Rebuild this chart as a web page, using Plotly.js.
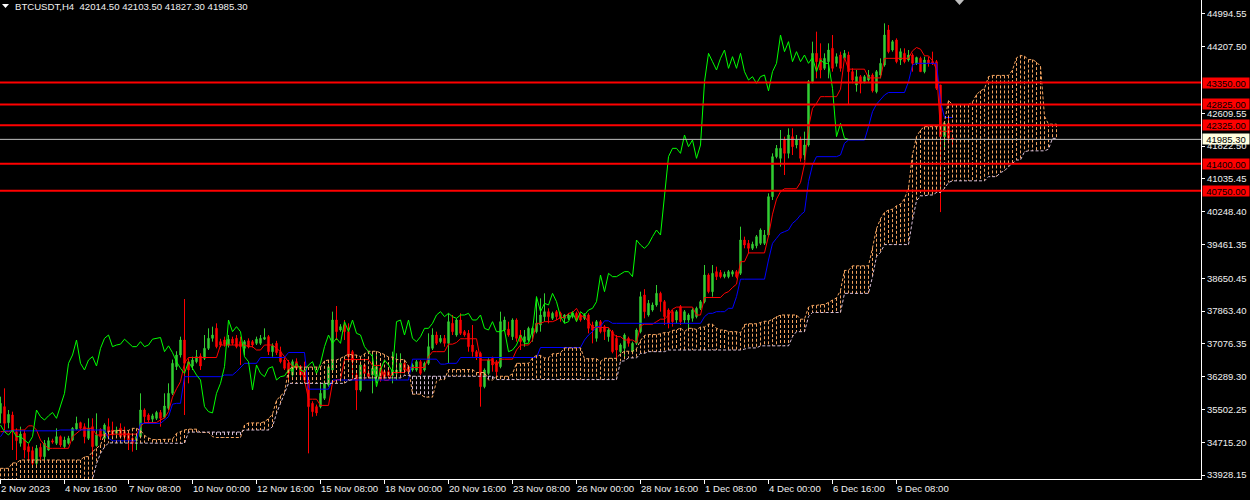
<!DOCTYPE html>
<html><head><meta charset="utf-8">
<script src="https://cdn.plot.ly/plotly-3.0.1.min.js"></script>
<style>html,body{margin:0;padding:0;background:#000;}#chart{width:1250px;height:500px;}</style>
</head><body><div id="chart"></div>
<script>
// ---------- data ----------
const symbolTitle = "BTCUSDT,H4";
const lastOHLC = ["42014.50", "42103.50", "41827.30", "41985.30"];

const openP = [
35410,35570,35186,35370,34970,34690,34930,34610,34514,34210,
34594,34370,34530,34750,34690,34850,34610,34690,34770,35034,
35186,35090,34810,35090,34634,35026,34810,35090,35010,34930,
35050,34970,34930,34810,34750,34850,35490,35370,35270,35290,
35430,35314,35530,35890,36530,36810,37170,36650,36546,36650,
36786,36730,36970,37210,37450,37130,37170,37050,37190,37210,
37130,36970,37150,37130,37090,37090,37190,37250,36890,37090,
36890,36690,36610,36330,36650,36490,36450,36210,35650,35570,
35570,35770,36090,36450,37650,37410,37530,37370,36890,36330,
35970,36570,36370,36330,36290,36490,36410,36410,36310,36370,
36410,36610,36530,36450,36450,36650,36450,36610,36970,37290,
37130,37210,37090,37570,37290,37650,37370,37330,37050,36890,
36850,36050,36370,36730,36650,36530,37410,37430,37250,37650,
37290,37130,37170,37330,37370,37530,37730,37850,37690,37850,
37810,37690,37690,37730,37810,37770,37690,37770,37530,37210,
37610,37490,37250,37370,37210,36890,36970,37210,36890,37090,
37370,38250,37770,37890,38010,38290,38090,37890,37850,37650,
37970,37650,37650,37690,37730,37930,38090,38730,38330,38810,
38790,38690,38690,38750,38810,38770,39570,39490,39370,39430,
39490,39490,39690,40610,41570,41530,41970,41650,42050,41850,
41970,41610,41850,43370,44050,43930,43690,43850,44170,43810,
44010,43930,44010,43610,43290,43490,43370,43410,43530,43130,
43530,43770,44610,44130,44370,43890,44050,43890,44010,43810,
43930,43610,43890,43850,43850,43290,42050,42370,42014.5];

const highP = [
35810,36010,35490,35450,35050,35090,35010,34690,34610,34650,
34690,34770,34834,34800,35050,34880,34850,34870,35080,35330,
35210,35170,35290,35290,35410,35050,35170,35290,35210,35090,
35170,35090,35010,34850,34930,35890,35530,35410,35400,35470,
35490,35890,36130,36700,36900,37250,38154,36730,36770,36930,
36850,37290,37450,37490,37570,37200,37250,37290,37250,37290,
37250,37170,37210,37170,37250,37290,37450,37290,37090,37150,
37010,36770,36690,36700,36730,36570,36650,36290,35700,35620,
36130,36200,36600,37850,37986,37550,37650,37570,36930,36450,
36650,36610,36450,36890,36890,36610,36450,36450,36890,36850,
36850,36690,36570,36610,36690,36690,36650,37330,37450,37370,
37290,37290,37810,37770,37690,37810,37410,37410,37530,36930,
36890,36490,36730,36770,36690,37850,37730,37610,37690,37690,
37410,37410,37490,37490,38210,38170,38290,37930,37850,37890,
37850,37790,37810,37850,37850,37810,37810,37810,37610,37650,
37650,37530,37450,37410,37290,37090,37330,37250,37130,37450,
38330,38390,38130,38070,38490,38330,38130,37930,37890,37890,
38010,37890,37810,37930,37970,38130,38970,38770,38970,38930,
38850,38810,38850,38850,38850,39890,39650,39570,39530,39690,
39850,39810,40690,41650,41850,42210,42050,42250,42250,42090,
42050,42170,43410,44330,44570,44290,44050,44290,44490,44050,
44090,44130,44090,43690,43650,43530,43530,43650,43570,43650,
43930,44770,44730,44370,44410,44170,44170,44130,44050,43970,
43970,43970,43970,44090,43890,43290,42410,42530,42103.5];

const lowP = [
35170,35010,35050,34530,34290,34610,34330,34290,34130,34114,
34250,34290,34514,34680,34650,34600,34570,34660,34740,35010,
34990,34690,34770,34370,34610,34770,34770,34850,34850,34850,
34810,34770,34530,34490,34530,34830,35170,35170,35200,35250,
35090,35290,35490,35850,36450,36750,35370,36130,36450,36610,
36450,36690,36930,37130,36970,37000,37010,36990,37050,36970,
36570,36810,36970,36990,37050,37050,37170,36810,36770,36810,
36610,36450,36210,36290,36450,36250,36130,34450,35330,35350,
35530,35730,36050,36400,37170,37370,37170,36690,36210,35490,
35930,36210,36250,35890,36130,36170,36250,36250,36130,36210,
36370,36370,36350,36410,36410,36330,36410,36570,36930,37050,
37090,37010,36610,37290,37250,37290,37250,36890,36770,36690,
35570,36010,36330,36410,36250,36490,37370,37250,37170,37130,
36930,37010,37130,37130,37330,37370,37610,37570,37650,37650,
37610,37570,37650,37690,37610,37610,37650,37330,37090,37130,
37330,37170,37130,36850,36690,36850,36730,37010,36850,37050,
37330,37690,37730,37850,37970,37850,37530,37450,37490,37570,
37530,37570,37410,37610,37690,37890,38050,38290,38210,38610,
38650,38650,38650,38690,38650,38730,39370,39250,39330,39370,
39450,39450,39650,40530,41530,41330,41130,41530,41610,41770,
41450,41490,41810,43330,43450,43450,43650,43450,43610,43730,
43610,43890,42810,43330,43130,43090,43330,43370,43110,43090,
43450,43730,44050,44090,43810,43770,43810,43850,43610,43770,
43610,43570,43730,43770,43170,40240,41730,41890,41827.3];

const closeP = [
35650,35170,35386,34970,34754,34914,34530,34490,34210,34570,
34370,34690,34754,34720,34850,34650,34770,34810,35050,35170,
35050,34850,35050,34610,34890,34850,35130,34970,34890,35010,
34850,34850,34770,34690,34850,35490,35330,35250,35350,35430,
35290,35586,35890,36610,36810,37170,36610,36450,36690,36770,
36546,36970,37210,37290,37010,37050,37070,37190,37090,37010,
37010,37130,37010,37050,37190,37210,37230,36890,37030,36866,
36650,36490,36370,36650,36490,36330,36210,35570,35450,35420,
35890,36130,36530,37650,37370,37490,37370,36770,36650,35970,
36570,36370,36290,36490,36530,36210,36290,36310,36450,36450,
36610,36450,36410,36570,36650,36370,36610,37010,37290,37090,
37210,37090,37610,37370,37650,37330,37290,37010,36890,36770,
36050,36450,36690,36570,36410,37610,37650,37290,37650,37210,
37130,37250,37450,37450,37570,37770,37850,37730,37810,37730,
37690,37770,37770,37810,37650,37650,37770,37450,37410,37610,
37370,37370,37410,36890,36930,37050,37290,37090,37090,37410,
38210,37850,38050,38010,38290,38090,37730,37570,37610,37850,
37610,37850,37770,37890,37930,38090,38730,38330,38770,38690,
38690,38750,38810,38810,38690,39570,39450,39370,39470,39650,
39810,39690,40610,41570,41770,41770,41650,42090,41810,41970,
41530,41850,43370,44050,43850,43650,43930,44130,43690,43970,
43690,44050,43610,43410,43490,43330,43490,43530,43150,43610,
43810,44490,44090,44330,43850,44090,43850,44010,43810,43950,
43610,43890,43810,43810,43210,42050,42370,42014.5,41985.3];

// Tenkan-sen (red), Kijun-sen (blue) per bar
const tenkan = [
34970,34970,34970,35010,35010,35010,35010,35110,35110,35010,
34770,34650,34570,34570,34570,34570,34570,34570,34850,34930,
35010,35050,35050,35050,34890,34890,34890,34890,34910,34910,
34910,34910,34910,34910,34910,35090,35190,35190,35190,35190,
35250,35300,35450,35800,36000,36170,36620,36750,36750,36750,
36750,36750,36750,36750,36750,37050,37050,37050,37050,37050,
37050,37050,37010,37010,36930,36930,37050,37050,37050,36970,
36890,36770,36650,36530,36530,36530,36210,35750,35750,35750,
35600,35600,35600,36150,36220,36220,36700,36700,36700,36700,
36700,36700,36700,36560,36560,36560,36200,36200,36390,36390,
36390,36390,36510,36510,36510,36510,36510,36770,36890,36890,
36890,36890,37070,37070,37110,37200,37200,37200,37200,37200,
36690,36690,36690,36690,36550,36710,36710,36710,36710,36930,
37050,37050,37050,37170,37570,37570,37610,37610,37610,37650,
37710,37710,37810,37830,37930,37750,37730,37610,37470,37470,
37470,37470,37470,37330,37250,37250,37170,37170,37170,37110,
37510,37550,37550,37550,37610,37670,37670,37770,37910,37960,
37960,37960,37960,37960,37770,37770,38190,38190,38190,38190,
38190,38290,38330,38430,38510,39050,39050,39260,39260,39260,
39260,39260,39670,40190,40550,40730,40800,40800,40800,40800,
40950,41390,42270,42730,42850,43010,43010,43010,43010,43010,
43190,43950,43670,43670,43670,43670,43670,43460,43460,43460,
43460,43930,43930,43930,43930,43930,43930,43930,44110,44190,
44150,43990,43990,43870,43670,42180,42180,42180,42180];

const kijun = [
34850,34990,34990,34990,34990,34990,34990,34990,34990,34990,
34990,34990,34990,34990,34990,35010,35010,35010,35010,35010,
35010,35010,35010,35010,35010,35010,35010,34810,34750,34750,
34750,34750,34750,34750,34750,35170,35170,35170,35170,35170,
35170,35250,35330,35630,35650,35650,36290,36290,36290,36290,
36290,36290,36290,36290,36290,36290,36330,36330,36330,36410,
36510,36610,36610,36610,36610,36750,36750,36750,36750,36750,
36750,36750,36870,36870,36870,36870,36870,35990,35990,35990,
35990,35990,35990,36210,36210,36210,36210,36210,36210,36210,
36210,36210,36210,36210,36210,36210,36210,36210,36210,36210,
36210,36210,36210,36710,36710,36710,36710,36710,36710,36710,
36590,36590,36610,36610,36610,36750,36750,36750,36750,36750,
36750,36750,36750,36750,36750,36750,36750,36750,36750,36750,
36750,36750,36750,36750,36750,36990,36990,36990,36990,36990,
36990,36990,36990,36990,36990,36990,37170,37290,37370,37490,
37490,37630,37630,37570,37570,37570,37570,37570,37570,37570,
37570,37570,37570,37570,37570,37570,37570,37570,37570,37570,
37570,37570,37570,37570,37570,37570,37730,37810,37810,37850,
37850,37850,37930,37930,38210,38630,38630,38630,38630,38630,
38630,38630,39090,39490,39610,39730,39770,39810,39970,40050,
40170,40250,40970,41370,41570,41570,41570,41570,41570,41570,
41610,41890,41970,41970,41970,41970,41970,42290,42650,42830,
42930,43050,43110,43110,43110,43110,43110,43370,43770,43810,
43810,43810,43810,43810,43810,42890,42510,42510,42510];

// Senkou span A / B, per bar (cloud, 26 bars ahead of price)
const spanA = [
34090,34090,34090,34220,34220,34290,34290,34290,34290,34290,
34290,34290,34290,34290,34290,34290,34290,34290,34290,34290,
34290,34370,34370,34490,34570,34650,
34910,34980,34980,35000,35000,35000,35000,35050,35050,35000,
34880,34820,34780,34780,34780,34790,34790,34790,34930,34970,
35010,35030,35030,35030,34950,34950,34950,34850,34830,34830,
34830,34830,34830,34830,34830,35130,35180,35180,35180,35180,
35210,35280,35390,35720,35830,35910,36460,36520,36520,36520,
36520,36520,36520,36520,36520,36670,36690,36690,36690,36730,
36780,36830,36810,36810,36770,36840,36900,36900,36900,36860,
36820,36760,36760,36700,36700,36700,36540,35870,35870,35870,
35800,35800,35800,36180,36220,36220,36460,36460,36460,36460,
36460,36460,36460,36390,36390,36390,36210,36210,36300,36300,
36300,36300,36360,36610,36610,36610,36610,36740,36800,36800,
36740,36740,36840,36840,36860,36980,36980,36980,36980,36980,
36720,36720,36720,36720,36650,36730,36730,36730,36730,36840,
36900,36900,36900,36960,37160,37280,37300,37300,37300,37320,
37350,37350,37400,37410,37460,37370,37450,37450,37420,37480,
37480,37550,37550,37450,37410,37410,37370,37370,37370,37340,
37540,37560,37560,37560,37590,37620,37620,37670,37740,37770,
37770,37770,37770,37770,37670,37670,37960,38000,38000,38020,
38020,38070,38130,38180,38360,38840,38840,38950,38950,38950,
38950,38950,39380,39840,40080,40230,40290,40310,40390,40430,
40560,40820,41620,42050,42210,42290,42290,42290,42290,42290,
42400,42920,42820,42820,42820,42820,42820,42880,43060,43150,
43200,43490,43520,43520,43520,43520,43520,43650,43940,44000,
43980,43900,43900,43840,43740,42540,42350,42350,42350];

const spanB = [
33600,33600,33600,33600,33600,33600,33600,33600,33600,33600,
33600,33600,33600,33600,33600,33600,33600,33600,33600,33600,
33600,33600,33600,33830,34200,34450,34600,34700,34700,34700,
34700,34700,34700,34700,34700,34700,34700,34700,34700,34700,
34700,34700,34700,34690,34690,34690,34690,34960,34960,34960,
34960,34960,34960,34960,34960,34960,34960,34960,34960,34960,
34960,35010,35010,35010,35010,35010,35010,35010,35090,35410,
35650,35890,36130,36130,36130,36130,36130,36130,36130,36130,
36130,36130,36130,36130,36130,36130,36130,36200,36220,36260,
36260,36260,36260,36260,36260,36260,36260,36260,36260,36260,
36260,36320,36320,36300,36300,36300,36300,36300,36300,36300,
36300,36300,36300,36300,36300,36300,36300,36300,36300,36300,
36300,36300,36300,36300,36220,36220,36220,36220,36220,36220,
36220,36220,36220,36220,36220,36220,36220,36220,36220,36220,
36220,36220,36220,36220,36220,36220,36220,36220,36220,36220,
36220,36220,36220,36220,36220,36660,36670,36740,36740,36740,
36850,36850,36890,36890,36890,36890,36890,36930,36930,36930,
36930,36930,36930,36930,36930,36930,36930,36930,36930,36930,
36930,36930,36930,36930,36930,36930,36950,36980,36980,36980,
37030,37030,37030,37030,37030,37030,37030,37030,37250,37370,
37370,37370,37730,37830,37830,37830,37830,37830,37830,37830,
37830,38290,38290,38290,38290,38290,38290,38290,38690,39170,
39270,39460,39460,39460,39460,39460,39460,39460,40050,40510,
40630,40630,40650,40650,40710,40710,40810,40950,40990,40990,
40990,40990,40990,40990,40990,40990,40990,41090,41090,41090,
41190,41230,41330,41410,41490,41490,41690,41710,41710,41710,
41710,41710,41750,42010,42010];

const chikouShift = 26;

const levels = [43350, 42825, 42325, 41400, 40750];
const levelLabels = ["43350.00", "42825.00", "42325.00", "41400.00", "40750.00"];
const currentPrice = 41985.30;
const currentLabel = "41985.30";

const yTickVals = [44994.55, 44207.50, 42609.55, 41822.50, 41035.45, 40248.40, 39461.35, 38650.45, 37863.40, 37076.35, 36289.30, 35502.25, 34715.20, 33928.15];
const yTickText = ["44994.55", "44207.50", "42609.55", "41822.50", "41035.45", "40248.40", "39461.35", "38650.45", "37863.40", "37076.35", "36289.30", "35502.25", "34715.20", "33928.15"];

const xTickBars = [0, 16, 32, 48, 64, 80, 96, 112, 128, 144, 160, 176, 192, 208, 224];
const xTickText = ["2 Nov 2023", "4 Nov 16:00", "7 Nov 08:00", "10 Nov 00:00", "12 Nov 16:00", "15 Nov 08:00", "18 Nov 00:00", "20 Nov 16:00", "23 Nov 08:00", "26 Nov 00:00", "28 Nov 16:00", "1 Dec 08:00", "4 Dec 00:00", "6 Dec 16:00", "9 Dec 08:00"];

// ---------- time axis (H4 bars from 2 Nov 2023 00:00) ----------
const T0 = Date.UTC(2023, 10, 2, 0, 0);
function barTime(j) {
  const d = new Date(T0 + Math.round(j * 4 * 3600000));
  return d.toISOString().slice(0, 19).replace('T', ' ');
}
const times = openP.map((_, i) => barTime(i));

// ---------- traces ----------
const FONT = 'Liberation Sans, Arial, sans-serif';
const traces = [];

traces.push({
  type: 'candlestick', x: times, open: openP, high: highP, low: lowP, close: closeP,
  increasing: {line: {color: '#32CD32', width: 1}, fillcolor: '#32CD32'},
  decreasing: {line: {color: '#FF0000', width: 1}, fillcolor: '#FF0000'},
  whiskerwidth: 0, hoverinfo: 'skip', showlegend: false
});

traces.push({type: 'scatter', mode: 'lines', x: times, y: tenkan,
  line: {color: '#FF0000', width: 1}, hoverinfo: 'skip'});
traces.push({type: 'scatter', mode: 'lines', x: times, y: kijun,
  line: {color: '#0000FF', width: 1}, hoverinfo: 'skip'});

// cloud as dotted vertical histogram lines
const upX = [], upY = [], dnX = [], dnY = [];
const cloudTimes = spanA.map((_, j) => barTime(j));
for (let j = 0; j < spanA.length; j++) {
  const t = cloudTimes[j];
  if (spanA[j] >= spanB[j]) { upX.push(t, t, null); upY.push(spanA[j], spanB[j], null); }
  else { dnX.push(t, t, null); dnY.push(spanB[j], spanA[j], null); }
}
traces.push({type: 'scatter', mode: 'lines', x: upX, y: upY, connectgaps: false,
  line: {color: '#F4A460', width: 1, dash: '3px,2px'}, hoverinfo: 'skip'});
traces.push({type: 'scatter', mode: 'lines', x: dnX, y: dnY, connectgaps: false,
  line: {color: '#D8BFD8', width: 1, dash: '3px,2px'}, hoverinfo: 'skip'});

// chikou span: close shifted back 26 bars
const chX = [], chY = [];
for (let i = 0; i + chikouShift < closeP.length; i++) { chX.push(times[i]); chY.push(closeP[i + chikouShift]); }
traces.push({type: 'scatter', mode: 'lines', x: chX, y: chY,
  line: {color: '#00FF00', width: 1}, hoverinfo: 'skip'});

// span lines
traces.push({type: 'scatter', mode: 'lines', x: cloudTimes, y: spanA,
  line: {color: '#F4A460', width: 1, dash: '3px,2px'}, hoverinfo: 'skip'});
traces.push({type: 'scatter', mode: 'lines', x: cloudTimes, y: spanB,
  line: {color: '#D8BFD8', width: 1, dash: '3px,2px'}, hoverinfo: 'skip'});

// ---------- layout ----------
const PW = 1201, PH = 479;
const shapes = [];
levels.forEach(v => shapes.push({type: 'line', xref: 'paper', x0: 0, x1: 1, yref: 'y', y0: v, y1: v,
  line: {color: '#FF0000', width: 2}}));
shapes.push({type: 'line', xref: 'paper', x0: 0, x1: 1, yref: 'y', y0: currentPrice, y1: currentPrice,
  line: {color: '#C0C0C0', width: 1}});
function P(px, py) { return (px / PW).toFixed(5) + ',' + (1 - py / PH).toFixed(5); }
shapes.push({type: 'path', xref: 'paper', yref: 'paper',
  path: 'M' + P(2, 4) + ' L' + P(9, 4) + ' L' + P(5.5, 8) + ' Z', fillcolor: '#FFFFFF', line: {width: 0}});
shapes.push({type: 'path', xref: 'paper', yref: 'paper',
  path: 'M' + P(955, 0) + ' L' + P(964, 0) + ' L' + P(959.5, 5) + ' Z', fillcolor: '#BEBEBE', line: {width: 0}});

const annotations = [];
annotations.push({xref: 'paper', yref: 'paper', x: 0, y: 1, xanchor: 'left', yanchor: 'top', xshift: 14, yshift: 0,
  text: symbolTitle + '\u00a0\u00a0' + lastOHLC.join(' '), showarrow: false, borderpad: 0,
  font: {family: FONT, size: 9.6, color: '#F0F0F0'}});
levels.forEach((v, k) => annotations.push({xref: 'paper', yref: 'y', x: 1, y: v, xanchor: 'left', yanchor: 'middle',
  xshift: 1, text: levelLabels[k], showarrow: false, bgcolor: '#FF0000', borderpad: 0, width: 46, height: 10,
  font: {family: FONT, size: 9.5, color: '#000000'}}));
annotations.push({xref: 'paper', yref: 'y', x: 1, y: currentPrice, xanchor: 'left', yanchor: 'middle',
  xshift: 1, text: currentLabel, showarrow: false, bgcolor: '#FFFFE0', borderpad: 0, width: 46, height: 10,
  font: {family: FONT, size: 9.5, color: '#000000'}});
xTickBars.forEach((b, k) => annotations.push({xref: 'x', yref: 'paper', x: barTime(b), y: 0,
  xanchor: 'left', yanchor: 'top', xshift: -1, yshift: -3, text: xTickText[k], showarrow: false, borderpad: 0,
  font: {family: FONT, size: 9.6, color: '#F0F0F0'}}));

const layout = {
  width: 1250, height: 500,
  paper_bgcolor: '#000000', plot_bgcolor: '#000000',
  margin: {l: 0, r: 49, t: 0, b: 21, pad: 0},
  showlegend: false, hovermode: false, boxgap: 0.5,
  xaxis: {type: 'date', range: [barTime(-0.125), barTime(300.125)], showgrid: false, zeroline: false,
    showline: true, linecolor: '#FFFFFF', linewidth: 1, ticks: 'outside', ticklen: 4, tickcolor: '#FFFFFF',
    tickvals: xTickBars.map(barTime), showticklabels: false, rangeslider: {visible: false}, fixedrange: true},
  yaxis: {side: 'right', range: [33834, 45330], showgrid: false, zeroline: false,
    showline: true, linecolor: '#FFFFFF', linewidth: 1, ticks: 'outside', ticklen: 3, tickcolor: '#FFFFFF',
    tickmode: 'array', tickvals: yTickVals, ticktext: yTickText,
    tickfont: {family: FONT, size: 9.5, color: '#F0F0F0'}, fixedrange: true},
  shapes: shapes, annotations: annotations
};

Plotly.newPlot('chart', traces, layout, {staticPlot: true, displayModeBar: false});
</script>
</body></html>
